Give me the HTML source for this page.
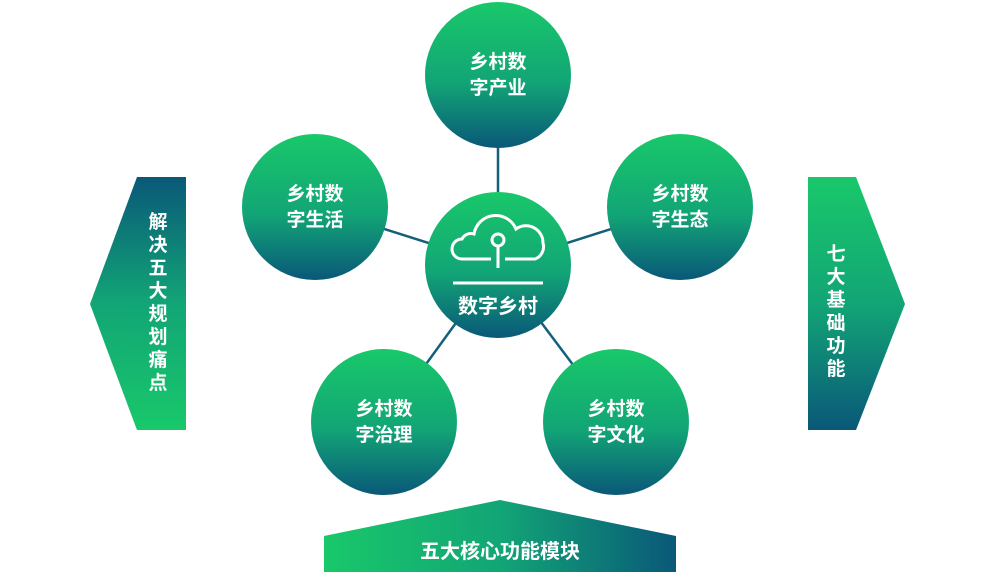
<!DOCTYPE html>
<html><head><meta charset="utf-8"><style>
html,body{margin:0;padding:0;background:#fff;}
svg text{font-family:"Liberation Sans","Noto Sans CJK SC",sans-serif;font-weight:bold;fill:#fff;}
</style></head><body>
<svg width="990" height="572" viewBox="0 0 990 572" xmlns="http://www.w3.org/2000/svg">
<defs>
<linearGradient id="cg" x1="0" y1="0" x2="0" y2="1">
<stop offset="0" stop-color="#19c86a"/><stop offset="0.55" stop-color="#12a576"/><stop offset="1" stop-color="#0a5878"/>
</linearGradient>
<linearGradient id="lg" x1="0" y1="0" x2="0" y2="1">
<stop offset="0" stop-color="#0a5878"/><stop offset="0.5" stop-color="#12a576"/><stop offset="1" stop-color="#19c86a"/>
</linearGradient>
<linearGradient id="rg" x1="0" y1="0" x2="0" y2="1">
<stop offset="0" stop-color="#19c86a"/><stop offset="0.5" stop-color="#12a576"/><stop offset="1" stop-color="#0a5878"/>
</linearGradient>
<linearGradient id="bg" x1="0" y1="0" x2="1" y2="0">
<stop offset="0" stop-color="#19c86a"/><stop offset="0.5" stop-color="#12a576"/><stop offset="1" stop-color="#0a5878"/>
</linearGradient>
</defs>
<g stroke="#14607a" stroke-width="2.5">
<line x1="498" y1="265" x2="498" y2="75"/>
<line x1="498" y1="265" x2="315" y2="207"/>
<line x1="498" y1="265" x2="680" y2="207"/>
<line x1="498" y1="265" x2="384" y2="422"/>
<line x1="498" y1="265" x2="616" y2="422"/>
</g>
<polygon points="137,177 186,177 186,430 137,430 90,304" fill="url(#lg)"/>
<polygon points="808,177 856,177 905,304 856,430 808,430" fill="url(#rg)"/>
<polygon points="324,536 500,500 676,536 676,572 324,572" fill="url(#bg)"/>
<g fill="url(#cg)">
<circle cx="498" cy="75" r="73"/>
<circle cx="315" cy="207" r="73"/>
<circle cx="680" cy="207" r="73"/>
<circle cx="384" cy="422" r="73"/>
<circle cx="616" cy="422" r="73"/>
<circle cx="498" cy="265" r="73"/>
</g>
<g font-size="19" text-anchor="middle">
<text x="498" y="68">乡村数</text><text x="498" y="94">字产业</text>
<text x="315" y="200">乡村数</text><text x="315" y="226">字生活</text>
<text x="680" y="200">乡村数</text><text x="680" y="226">字生态</text>
<text x="384" y="415">乡村数</text><text x="384" y="441">字治理</text>
<text x="616" y="415">乡村数</text><text x="616" y="441">字文化</text>
<text x="498" y="313" font-size="20">数字乡村</text>
<text x="500" y="558" font-size="20">五大核心功能模块</text>
</g>
<g fill="none" stroke="#fff" stroke-width="3">
<path d="M491,259 H462 a10,10 0 0 1 0,-20 a10,10 0 0 1 12,-5 a22,22 0 0 1 42,-5 a17,17 0 0 1 27,14 a13,13 0 0 1 -8,16 H505"/>
<circle cx="498" cy="240" r="6"/>
<line x1="498" y1="246" x2="498" y2="268"/>
<line x1="453" y1="283" x2="543" y2="283"/>
</g>
<g font-size="19" text-anchor="middle">
<text x="158" y="228">解</text><text x="158" y="251">决</text><text x="158" y="274">五</text><text x="158" y="297">大</text><text x="158" y="320">规</text><text x="158" y="343">划</text><text x="158" y="366">痛</text><text x="158" y="389">点</text>
<text x="836" y="260">七</text><text x="836" y="283">大</text><text x="836" y="306">基</text><text x="836" y="329">础</text><text x="836" y="352">功</text><text x="836" y="375">能</text>
</g>
</svg>
</body></html>
